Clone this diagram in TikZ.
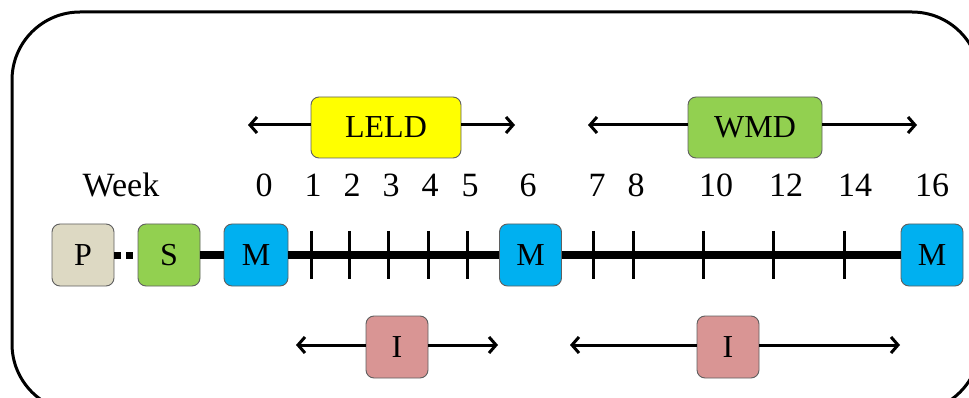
\documentclass[tikz,border=0pt]{standalone}
\usepackage{fontspec}
\setmainfont{Liberation Serif}
\usetikzlibrary{arrows.meta}
\definecolor{ptan}{HTML}{DDD9C3}
\definecolor{sgreen}{HTML}{92D050}
\definecolor{mblue}{HTML}{00B0F0}
\definecolor{lyellow}{HTML}{FFFF00}
\definecolor{ipink}{HTML}{D99594}
\definecolor{edgegray}{HTML}{5F5F5F}
\begin{document}
\begin{tikzpicture}[x=1pt,y=-1pt,
  box/.style={draw=edgegray, line width=0.9pt, rounded corners=8pt, inner sep=0pt,
    font=\fontsize{32}{35}\selectfont, text=black},
  sq/.style={box, minimum width=62pt, minimum height=62pt},
  wide/.style={box, minimum height=61pt},
  lbl/.style={font=\fontsize{34}{37}\selectfont, inner sep=0pt, anchor=base},
  arr/.style={line width=3pt, -{Straight Barb[length=7pt,width=16pt,line width=3pt]}},
  tline/.style={line width=7.5pt},
  tick/.style={line width=3pt}
]
\useasboundingbox (0,0) rectangle (969,398);
% outer frame
\draw[line width=3pt, rounded corners=68pt] (12,12) rectangle (980,412);

% timeline boxes
\node[sq, fill=ptan]   (P)  at (83,255)  {P};
\node[sq, fill=sgreen] (S)  at (169,255) {S};
\node[sq, fill=mblue, minimum width=64pt]  (M1) at (256,255) {M};
\node[sq, fill=mblue]  (M2) at (530.5,255) {M};
\node[sq, fill=mblue]  (M3) at (932,255) {M};

% timeline
\draw[line width=7pt, dash pattern=on 7pt off 5pt] (P.east) -- (S.west);
\draw[tline] (S.east) -- (M1.west);
\draw[tline] (M1.east) -- (M2.west);
\draw[tline] (M2.east) -- (M3.west);
\foreach \x in {311,349,388,428,467,593,633,703,773,844}
  \draw[tick] (\x,231) -- (\x,279);

% week labels
\node[lbl] (wk) at (121,197) {Week};
\foreach \x/\t [count=\i] in {264/0,313/1,352/2,391/3,430/4,470/5,528/6,597/7,636/8,716/10,786/12,855/14,932/16}
  \node[lbl] (n\i) at (\x,197) {\t};

% upper phases
\node[wide, fill=lyellow, minimum width=150pt] (LELD) at (386,127.5) {LELD};
\node[wide, fill=sgreen, minimum width=134pt] (WMD) at (755,127.5) {WMD};
\coordinate (LELDl) at (248,125);
\coordinate (LELDr) at (515,125);
\coordinate (WMDl) at (588,125);
\coordinate (WMDr) at (917,125);
\draw[arr] (LELD.west |- LELDl) -- (LELDl);
\draw[arr] (LELD.east |- LELDr) -- (LELDr);
\draw[arr] (WMD.west |- WMDl) -- (WMDl);
\draw[arr] (WMD.east |- WMDr) -- (WMDr);

% lower phases
\node[sq, fill=ipink] (I1) at (397,347) {I};
\node[sq, fill=ipink] (I2) at (728,347) {I};
\coordinate (I1l) at (296,345);
\coordinate (I1r) at (498,345);
\coordinate (I2l) at (570,345);
\coordinate (I2r) at (900,345);
\draw[arr] (I1.west |- I1l) -- (I1l);
\draw[arr] (I1.east |- I1r) -- (I1r);
\draw[arr] (I2.west |- I2l) -- (I2l);
\draw[arr] (I2.east |- I2r) -- (I2r);
\end{tikzpicture}
\end{document}
